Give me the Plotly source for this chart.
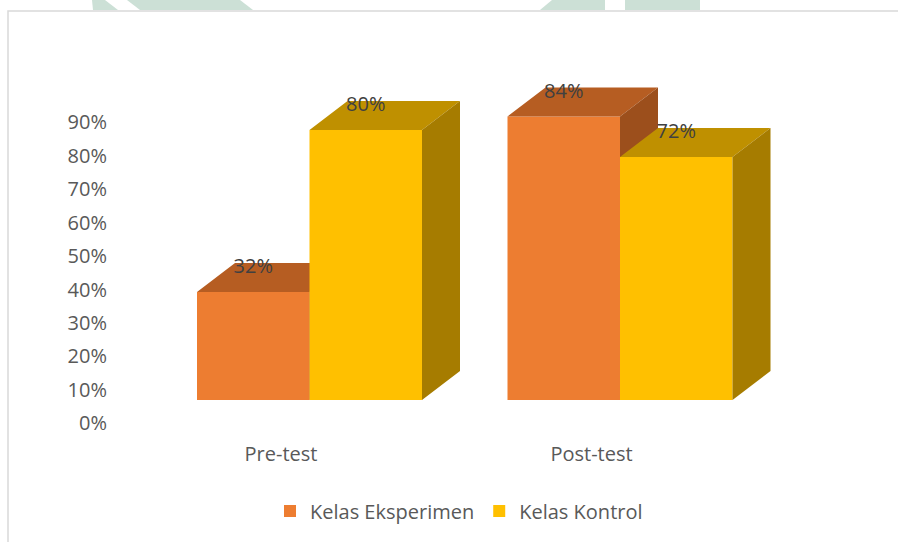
import plotly.graph_objects as go

# ---- data ----
categories = ["Pre-test", "Post-test"]
kelas_eksperimen = [32, 84]
kelas_kontrol = [80, 72]
series_names = ["Kelas Eksperimen", "Kelas Kontrol"]
y_ticks = [0, 10, 20, 30, 40, 50, 60, 70, 80, 90]

# ---- styling / geometry ----
W, H = 898, 542
L, R, T, B = 108, 870, 40, 430          # plot area in pixels
GROUP_PX = 310.5                         # pixels per category
BAR_W = 112.5 / GROUP_PX                 # bar width in x units
PX_PER_PCT = 3.375                       # bar scale
BASE_PX = 400                            # front face base
LBL_ZERO_PX, LBL_PX_PER_PCT = 423.3, 3.344
DX = 38 / GROUP_PX                       # depth offset (x units)
DY = 29 / PX_PER_PCT                     # depth offset (value units)
X0_PX = 309.5

colors = {
    "Kelas Eksperimen": ("#ED7D31", "#B65D22", "#9C4F1C"),
    "Kelas Kontrol": ("#FFC000", "#BF9000", "#A67C00"),
}
FONT = "Open Sans"
FS = 20

x_range = [(L - X0_PX) / GROUP_PX, (R - X0_PX) / GROUP_PX]
bar_range = [-(B - BASE_PX) / PX_PER_PCT, (BASE_PX - T) / PX_PER_PCT]
lbl_range = [-(B - LBL_ZERO_PX) / LBL_PX_PER_PCT, (LBL_ZERO_PX - T) / LBL_PX_PER_PCT]

def px(x, y):
    return (x - L) / (R - L), (B - y) / (B - T)

fig = go.Figure()
# anchor trace for the label axis
fig.add_trace(go.Scatter(x=[None], y=[None], xaxis="x", yaxis="y", showlegend=False, hoverinfo="skip"))

xs = list(range(len(categories)))
for si, (name, vals) in enumerate(zip(series_names, [kelas_eksperimen, kelas_kontrol])):
    front, top, side = colors[name]
    yax = "y2" if si == 0 else "y3"
    offset = -BAR_W if si == 0 else 0.0
    fig.add_trace(go.Bar(
        x=xs, y=vals, width=BAR_W, offset=offset, name=name,
        marker=dict(color=front, line=dict(width=0)),
        xaxis="x", yaxis=yax, hoverinfo="skip"))
    tx, ty, sx, sy = [], [], [], []
    for xi, v in zip(xs, vals):
        xl = xi + offset
        xr = xl + BAR_W
        tx += [xl, xl + DX, xr + DX, xr, xl, None]
        ty += [v, v + DY, v + DY, v, v, None]
        sx += [xr, xr + DX, xr + DX, xr, xr, None]
        sy += [v, v + DY, DY, 0, v, None]
    fig.add_trace(go.Scatter(x=tx, y=ty, fill="toself", fillcolor=top, mode="lines",
                             line=dict(width=0, color=top), xaxis="x", yaxis=yax,
                             showlegend=False, hoverinfo="skip"))
    fig.add_trace(go.Scatter(x=sx, y=sy, fill="toself", fillcolor=side, mode="lines",
                             line=dict(width=0, color=side), xaxis="x", yaxis=yax,
                             showlegend=False, hoverinfo="skip"))

# data labels
lx, ly, lt = [], [], []
for si, vals in enumerate([kelas_eksperimen, kelas_kontrol]):
    offset = -BAR_W if si == 0 else 0.0
    for xi, v in zip(xs, vals):
        lx.append(xi + offset + BAR_W / 2)
        ly.append(v + DY - 5 / PX_PER_PCT)
        lt.append(f"{v}%")
fig.add_trace(go.Scatter(x=lx, y=ly, text=lt, mode="text", textposition="middle center",
                         textfont=dict(family=FONT, size=FS, color="#404040"),
                         xaxis="x", yaxis="y3", showlegend=False, hoverinfo="skip"))

label_shift = -28.5 / GROUP_PX
fig.update_layout(
    width=W, height=H,
    margin=dict(l=L, r=W - R, t=T, b=H - B, pad=0),
    paper_bgcolor="white", plot_bgcolor="rgba(0,0,0,0)",
    font=dict(family=FONT, size=FS, color="#595959"),
    xaxis=dict(range=x_range, showgrid=False, zeroline=False, showline=False,
               tickvals=[i + label_shift for i in xs], ticktext=categories,
               ticks="outside", ticklen=6, tickcolor="rgba(0,0,0,0)",
               tickfont=dict(family=FONT, size=FS, color="#595959")),
    yaxis=dict(range=lbl_range, showgrid=False, zeroline=False, showline=False,
               tickvals=y_ticks, ticktext=[f"{t}%" for t in y_ticks],
               ticks="", tickfont=dict(family=FONT, size=FS, color="#595959")),
    yaxis2=dict(range=bar_range, overlaying="y", visible=False),
    yaxis3=dict(range=bar_range, overlaying="y", visible=False),
    showlegend=True,
    legend=dict(orientation="h", x=(459 - L) / (R - L), xanchor="center",
                y=(B - 511) / (B - T), yanchor="middle",
                font=dict(family=FONT, size=FS, color="#595959"),
                itemwidth=30, traceorder="normal"),
    hovermode=False,
)

# decorative page elements: watermark fragments and chart border
wm = "rgb(204,224,214)"
polys = [
    [(92, 0), (105, 0), (118, 10), (93, 10)],
    [(127, 0), (240, 0), (253, 10), (140, 10)],
    [(552, 0), (605, 0), (605, 10), (540, 10)],
    [(625, 0), (700, 0), (700, 10), (625, 10)],
]
for poly in polys:
    pts = [px(a, b) for a, b in poly]
    path = "M " + " L ".join(f"{a},{b}" for a, b in pts) + " Z"
    fig.add_shape(type="path", path=path, xref="paper", yref="paper",
                  fillcolor=wm, line=dict(width=0), layer="below")
p1, p2, p3 = px(8, 560), px(8, 11), px(910, 11)
fig.add_shape(type="path", xref="paper", yref="paper",
              path=f"M {p1[0]},{p1[1]} L {p2[0]},{p2[1]} L {p3[0]},{p3[1]}",
              line=dict(color="#D9D9D9", width=1.5), layer="below")

fig.write_html("out.html", config={"displayModeBar": False},
               post_script="document.body.style.margin='0px';document.body.style.overflow='hidden';")
